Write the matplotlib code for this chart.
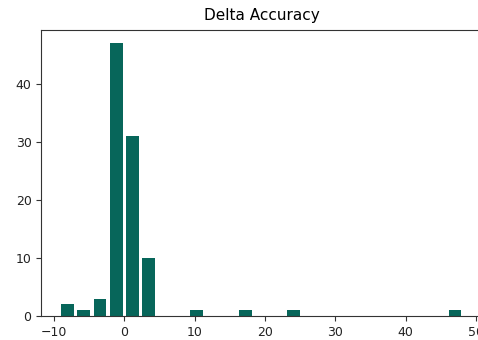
import numpy as np
import matplotlib
matplotlib.use("Agg")
import matplotlib.pyplot as plt

# histogram of delta accuracy, 25 bins
bin_lo = -9.18
bin_hi = 48.17
counts = [2, 1, 3, 47, 31, 10, 0, 0, 1, 0, 0, 1, 0, 0, 1,
          0, 0, 0, 0, 0, 0, 0, 0, 0, 1]
bar_color = "#07665A"

edges = np.linspace(bin_lo, bin_hi, len(counts) + 1)
centers = (edges[:-1] + edges[1:]) / 2

plt.rcParams["font.family"] = "DejaVu Sans"
plt.rcParams["xtick.labelsize"] = 9
plt.rcParams["ytick.labelsize"] = 9
plt.rcParams["xtick.color"] = "#333333"
plt.rcParams["ytick.color"] = "#333333"
plt.rcParams["xtick.labelcolor"] = "#222222"
plt.rcParams["ytick.labelcolor"] = "#222222"

fig = plt.figure(figsize=(4.78, 3.40), dpi=100)
ax = fig.add_axes([0.0864, 0.0706, 0.9209, 0.842])
ax.hist(centers, bins=edges, weights=counts, rwidth=0.8, color=bar_color)
ax.set_title("Delta Accuracy", fontsize=11, pad=7)
for s in ax.spines.values():
    s.set_color("#333333")

fig.savefig("out.png", dpi=100)
